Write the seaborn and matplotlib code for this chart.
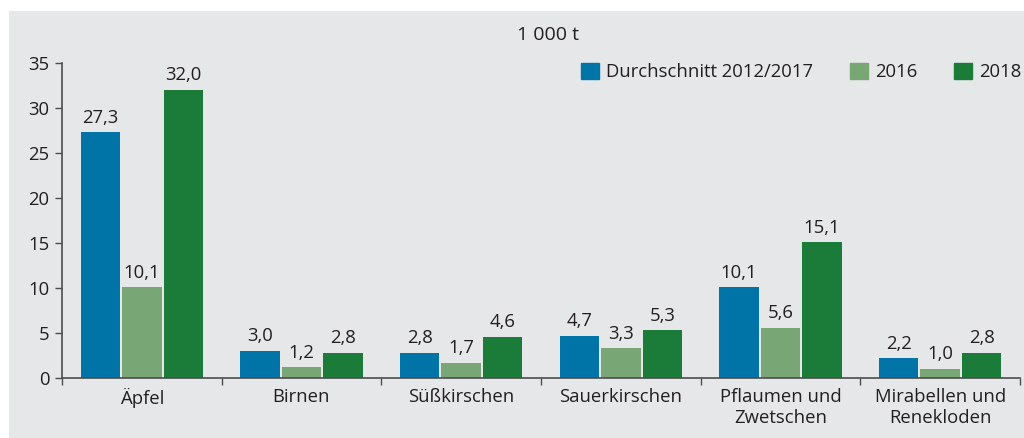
import matplotlib
matplotlib.use("Agg")
import matplotlib.pyplot as plt
import matplotlib.patches as mpatches
import pandas as pd
import seaborn as sns

# Erntemengen in 1 000 t
fruits = ["Äpfel", "Birnen", "Süßkirschen", "Sauerkirschen",
          "Pflaumen und\nZwetschen", "Mirabellen und\nRenekloden"]
series = ["Durchschnitt 2012/2017", "2016", "2018"]
avg_2012_2017 = [27.3, 3.0, 2.8, 4.7, 10.1, 2.2]
y2016 = [10.1, 1.2, 1.7, 3.3, 5.6, 1.0]
y2018 = [32.0, 2.8, 4.6, 5.3, 15.1, 2.8]
colors = ["#0074a6", "#78a674", "#1b7b38"]

df = pd.DataFrame({
    "fruit": fruits * 3,
    "series": [series[0]] * 6 + [series[1]] * 6 + [series[2]] * 6,
    "value": avg_2012_2017 + y2016 + y2018,
})

sns.set_style("white")
plt.rcParams["font.family"] = ["Open Sans", "DejaVu Sans"]
bg = "#e6e7e9"
txt = "#231f20"
fs = 13.3

fig = plt.figure(figsize=(10.24, 4.38), dpi=100)
fig.patches.append(mpatches.Rectangle((9 / 1024, 0), 1, 1 - 11 / 438,
                                      transform=fig.transFigure,
                                      facecolor=bg, edgecolor="none", zorder=-10))
ax = fig.add_axes([62 / 1024, 60 / 438, 958 / 1024, 315 / 438])
ax.set_facecolor("none")

sns.barplot(data=df, x="fruit", y="value", hue="series", palette=colors,
            width=0.78, gap=0.05, saturation=1, linewidth=0, ax=ax, legend=False)

for cont in ax.containers:
    ax.bar_label(cont, labels=[f"{b.get_height():.1f}".replace(".", ",") for b in cont],
                 padding=4, fontsize=fs, color=txt)

ax.set_ylim(0, 35)
ax.set_xlim(-0.5, 5.5)
ax.set_yticks(range(0, 36, 5))
ax.set_xlabel("")
ax.set_ylabel("")
for s in ["top", "right"]:
    ax.spines[s].set_visible(False)
for s in ["left", "bottom"]:
    ax.spines[s].set_color("#4d4d4d")
    ax.spines[s].set_linewidth(1.2)
ax.tick_params(axis="y", length=5, width=1, color="#4d4d4d", labelsize=fs,
               labelcolor=txt, left=True, pad=4)
ax.tick_params(axis="x", which="major", length=0, labelsize=fs, labelcolor=txt, pad=7)
ax.set_xticks([i - 0.5 for i in range(7)], minor=True)
ax.tick_params(axis="x", which="minor", length=5, width=1, color="#4d4d4d", bottom=True)

handles = [mpatches.Patch(color=c, label=l) for c, l in zip(colors, series)]
ax.legend(handles=handles, loc="center right", bbox_to_anchor=(1.019, 0.972), ncol=3,
          frameon=False, fontsize=fs, handlelength=0.95, handleheight=0.95,
          handletextpad=0.4, columnspacing=2.0, labelcolor=txt)

fig.text(548 / 1024, 1 - 35 / 438, "1 000 t", ha="center", va="center",
         fontsize=14, color=txt)

fig.savefig("out.png", dpi=100)
